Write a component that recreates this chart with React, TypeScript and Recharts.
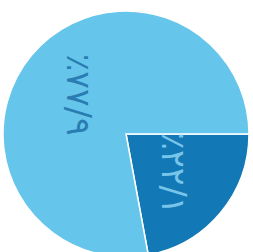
import { PieChart, Pie, Cell } from 'recharts';

// share of each slice (percent), drawn clockwise from 3 o'clock
const sliceNames = ['B', 'A'];
const sliceValues = [22.1, 77.9];
const sliceLabels = ['٪۲۲/۱', '٪۷۷/۹'];

const data = sliceNames.map((name, i) => ({ name, value: sliceValues[i], label: sliceLabels[i] }));

const COLORS = ['#1379b6', '#66c5ea'];
const LABEL_COLORS = ['#78c5ea', '#2a7db3'];
const RADIAN = Math.PI / 180;

const renderLabel = (props: any) => {
    const { cx, cy, midAngle, outerRadius, index } = props;
    const r = outerRadius * 0.5;
    const x = cx + r * Math.cos(-midAngle * RADIAN);
    const y = cy + r * Math.sin(-midAngle * RADIAN);
    return (
        <text
            x={x}
            y={y}
            fill={LABEL_COLORS[index]}
            textAnchor="middle"
            dominantBaseline="central"
            fontFamily="DejaVu Sans"
            fontSize={33}
            transform={`rotate(90, ${x}, ${y})`}
        >
            {data[index].label}
        </text>
    );
};

export default function App() {
    return (
        <div style={{ position: 'absolute', left: 0, top: 0, width: 253, height: 252, background: '#fff' }}>
            <PieChart width={253} height={252} margin={{ top: 0, right: 0, bottom: 0, left: 0 }}>
                <Pie
                    data={data}
                    dataKey="value"
                    cx={126}
                    cy={134}
                    outerRadius={123}
                    startAngle={0}
                    endAngle={-360}
                    stroke="#ffffff"
                    strokeWidth={1.5}
                    label={renderLabel}
                    labelLine={false}
                    isAnimationActive={false}
                >
                    {data.map((entry, index) => (
                        <Cell key={`cell-${index}`} fill={COLORS[index]} />
                    ))}
                </Pie>
            </PieChart>
        </div>
    );
}
